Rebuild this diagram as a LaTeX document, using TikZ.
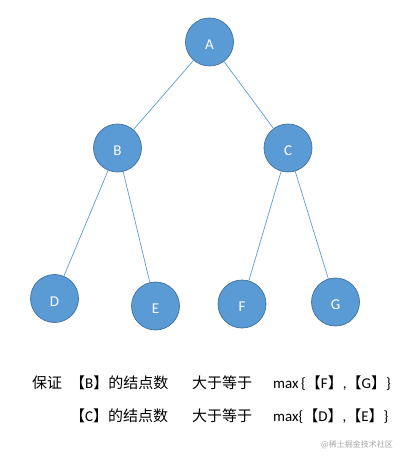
\documentclass[tikz,border=0pt]{standalone}
\usepackage{fontspec}
\setmainfont{Carlito}
\newfontfamily\cjk{Noto Sans CJK SC}
\definecolor{nodeblue}{HTML}{5B9BD5}
\definecolor{rimblue}{HTML}{41719C}
\tikzset{
  knot/.style={circle, fill=nodeblue, draw=rimblue, line width=0.7pt,
    minimum size=48pt, inner sep=0pt, text=white, text height=15pt, text depth=0pt,
    font=\fontsize{15}{15}\selectfont},
  branch/.style={draw=nodeblue, line width=0.7pt},
  line/.style={anchor=base west, inner sep=0pt, font=\fontsize{15}{15}\selectfont}
}
\begin{document}
\begin{tikzpicture}[x=1pt, y=-1pt]
    \useasboundingbox (0,0) rectangle (406,462);
    % tree
    \node[knot] (A) at (209.5,42) {A};
    \node[knot] (B) at (117.5,148) {B};
    \node[knot] (C) at (288,148) {C};
    \node[knot] (D) at (54.5,298.5) {D};
    \node[knot] (E) at (155.5,306) {E};
    \node[knot] (F) at (242,304) {F};
    \node[knot] (G) at (335.5,302) {G};
    \draw[branch] (A) -- (B);
    \draw[branch] (A) -- (C);
    \draw[branch] (B) -- (D);
    \draw[branch] (B) -- (E);
    \draw[branch] (C) -- (F);
    \draw[branch] (C) -- (G);
    % condition
    \node[line] (t1) at (32,388) {\cjk 保证};
    \node[line] (t2) at (70,388) {\cjk 【\rmfamily B\cjk 】的结点数};
    \node[line] (t3) at (192,388) {\cjk 大于等于};
    \node[line] (t4) at (273,388) {max\,\{\cjk 【\rmfamily F\cjk 】\rmfamily ,\cjk 【\rmfamily G\cjk 】\rmfamily\}};
    \node[line] (u2) at (70,421) {\cjk 【\rmfamily C\cjk 】的结点数};
    \node[line] (u3) at (192,421) {\cjk 大于等于};
    \node[line] (u4) at (273,421) {max\{\cjk 【\rmfamily D\cjk 】\rmfamily ,\cjk 【\rmfamily E\cjk 】\rmfamily\}};
    \node[anchor=east, inner sep=0pt, text=black!35, font=\cjk\fontsize{8}{8}\selectfont] (mark) at (393,445) {@稀土掘金技术社区};
\end{tikzpicture}
\end{document}
